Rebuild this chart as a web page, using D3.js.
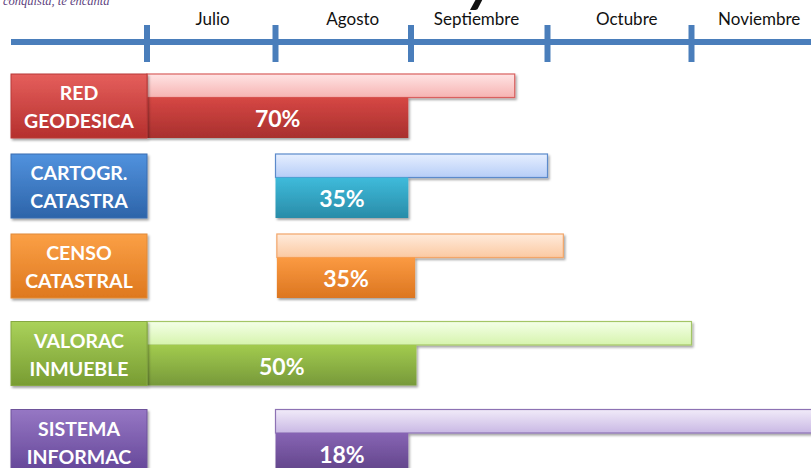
<!DOCTYPE html>
<html>
<head>
<meta charset="utf-8">
<script src="https://cdn.jsdelivr.net/npm/d3@7"></script>
<style>
  html, body { margin: 0; padding: 0; background: #fff; overflow: hidden; }
  svg { display: block; }
</style>
</head>
<body>
<svg id="chart" width="811" height="468"></svg>
<script>
// ---- data ----
const months = ["Julio", "Agosto", "Septiembre", "Octubre", "Noviembre"];
const monthTicks = [6, 7, 8, 9, 10];                 // month boundaries (month index)
const monthLabelPos = [6.51, 7.57, 8.48, 9.55, 10.47]; // label centres (month units)
const tasks = ["RED\nGEODESICA", "CARTOGR.\nCATASTRA", "CENSO\nCATASTRAL", "VALORAC\nINMUEBLE", "SISTEMA\nINFORMAC"];
const planStart = [6.0, 7.0, 7.01, 6.0, 7.0];
const planEnd   = [8.76, 9.0, 9.11, 10.0, 10.95];
const progEnd   = [7.98, 7.98, 8.03, 8.04, 7.98];
const progress  = ["70%", "35%", "35%", "50%", "18%"];

// ---- styles ----
const boxColors  = [["#E55F5C", "#B52F2D"], ["#5192DE", "#2D64A9"], ["#FBA046", "#DE781E"], ["#AAD25A", "#789C32"], ["#9677C4", "#634597"]];
const boxStroke  = ["#B83A38", "#3A6DB0", "#E08A3A", "#86A843", "#6E529A"];
const progColors = [["#D64744", "#A8302E"], ["#3EBBDB", "#2A8CA8"], ["#FB9A42", "#DC7620"], ["#A2CB4E", "#77993A"], ["#8764B4", "#5F4387"]];
const planColors = [["#FFE4E4", "#F6B3B2"], ["#E6EFFF", "#B6CDF7"], ["#FFEBDB", "#FBC9A2"], ["#F4FFE8", "#D6F4AD"], ["#F1EBF9", "#C9B8E4"]];
const planStroke = ["#D9615F", "#5B8ACB", "#F2A66A", "#A3C566", "#8D72B4"];

const svg = d3.select("#chart");
const W = 811;
const axisColor = "#4A7EBB";

// scales
const x = d3.scaleLinear().domain(monthTicks).range([147, 275.5, 411, 547.5, 691.5]);
const y = d3.scaleLinear().domain([0, 1, 2, 3, 4]).range([74, 154, 234, 321.5, 409.5]);
const boxH = 64, planH = 23.5;

// defs: gradients + shadow
const defs = svg.append("defs");
function grad(id, c) {
  const g = defs.append("linearGradient").attr("id", id).attr("x1", 0).attr("y1", 0).attr("x2", 0).attr("y2", 1);
  g.append("stop").attr("offset", "0%").attr("stop-color", c[0]);
  g.append("stop").attr("offset", "100%").attr("stop-color", c[1]);
}
tasks.forEach((t, i) => {
  grad("box" + i, boxColors[i]);
  grad("prog" + i, progColors[i]);
  grad("plan" + i, planColors[i]);
});
const f = defs.append("filter").attr("id", "shadow").attr("x", "-10%").attr("y", "-20%").attr("width", "130%").attr("height", "160%");
f.append("feDropShadow").attr("dx", 1.5).attr("dy", 2).attr("stdDeviation", 1.3).attr("flood-color", "#000").attr("flood-opacity", 0.35);

// top-left fragments
svg.append("text").attr("x", 3).attr("y", 4.5)
  .attr("font-family", "'Liberation Serif', serif").attr("font-style", "italic")
  .attr("font-size", 12.5).attr("fill", "#5E3F7E").text("conquista, te encanta");
svg.append("text").attr("x", 482).attr("y", 0).attr("text-anchor", "middle")
  .attr("font-family", "Lato, sans-serif").attr("font-weight", "bold").attr("font-style", "italic")
  .attr("font-size", 60).attr("fill", "#111").text("y");

// axis
const axisY = 42;
svg.append("line").attr("x1", 11).attr("x2", W).attr("y1", axisY).attr("y2", axisY)
  .attr("stroke", axisColor).attr("stroke-width", 6);
svg.selectAll("line.tick").data(monthTicks).join("line").attr("class", "tick")
  .attr("x1", d => x(d)).attr("x2", d => x(d)).attr("y1", 25).attr("y2", 62)
  .attr("stroke", axisColor).attr("stroke-width", 6);
svg.selectAll("text.month").data(months).join("text").attr("class", "month")
  .attr("x", (d, i) => x(monthLabelPos[i])).attr("y", 25).attr("text-anchor", "middle")
  .attr("font-family", "Lato, sans-serif").attr("font-size", 17).attr("fill", "#111").text(d => d);

// rows
const rows = svg.selectAll("g.row").data(tasks).join("g").attr("class", "row");

rows.append("rect").attr("class", "plan")
  .attr("x", (d, i) => x(planStart[i])).attr("y", (d, i) => y(i))
  .attr("width", (d, i) => x(planEnd[i]) - x(planStart[i])).attr("height", planH)
  .attr("fill", (d, i) => `url(#plan${i})`).attr("stroke", (d, i) => planStroke[i]).attr("stroke-width", 1.2)
  .attr("filter", "url(#shadow)");

rows.append("rect").attr("class", "prog")
  .attr("x", (d, i) => x(planStart[i])).attr("y", (d, i) => y(i) + planH)
  .attr("width", (d, i) => x(progEnd[i]) - x(planStart[i])).attr("height", boxH - planH)
  .attr("fill", (d, i) => `url(#prog${i})`)
  .attr("filter", "url(#shadow)");

rows.append("rect").attr("class", "box")
  .attr("x", 11).attr("y", (d, i) => y(i))
  .attr("width", 136).attr("height", boxH)
  .attr("fill", (d, i) => `url(#box${i})`).attr("stroke", (d, i) => boxStroke[i]).attr("stroke-width", 1)
  .attr("filter", "url(#shadow)");

rows.append("text").attr("class", "lbl")
  .attr("text-anchor", "middle").attr("font-family", "Lato, sans-serif").attr("font-weight", "bold")
  .attr("font-size", 19.5).attr("fill", "#fff")
  .each(function (d, i) {
    const parts = d.split("\n");
    const t = d3.select(this);
    parts.forEach((p, k) => {
      t.append("tspan").attr("x", 79).attr("y", y(i) + 26 + k * 28).text(p);
    });
  });

rows.append("text").attr("class", "pct")
  .attr("x", (d, i) => (x(planStart[i]) + x(progEnd[i])) / 2)
  .attr("y", (d, i) => y(i) + 53)
  .attr("text-anchor", "middle").attr("font-family", "Lato, sans-serif").attr("font-weight", "bold")
  .attr("font-size", 23).attr("fill", "#fff")
  .text((d, i) => progress[i]);
</script>
</body>
</html>
